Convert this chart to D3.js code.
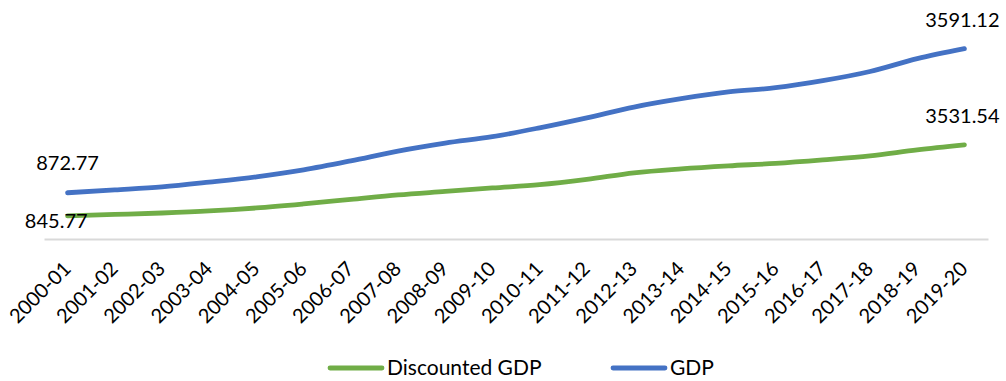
<!DOCTYPE html>
<html>
<head>
<meta charset="utf-8">
<script src="https://cdn.jsdelivr.net/npm/d3@7"></script>
<style>
  html, body { margin: 0; padding: 0; background: #fff; }
  svg { display: block; }
  text { font-family: Lato, "Open Sans", sans-serif; fill: #000; }
</style>
</head>
<body>
<svg id="chart" width="1006" height="381"></svg>
<script>
// ---- data ----
const categories = ["2000-01","2001-02","2002-03","2003-04","2004-05","2005-06","2006-07","2007-08","2008-09","2009-10",
                    "2010-11","2011-12","2012-13","2013-14","2014-15","2015-16","2016-17","2017-18","2018-19","2019-20"];
const gdp = [872.77, 926, 983, 1072, 1172, 1304, 1474, 1660, 1810, 1930,
             2098, 2287, 2490, 2647, 2775, 2854, 2987, 3160, 3403, 3591.12];
const discountedGdp = [435, 463, 491, 529, 586, 662, 747, 832, 898, 964,
                       1025, 1125, 1248, 1323, 1380, 1427, 1493, 1569, 1682, 1777];
// data label texts as printed on the chart (first and last point)
const gdpLabels = ["872.77", "3591.12"];
const discountedLabels = ["845.77", "3531.54"];
const seriesNames = ["Discounted GDP", "GDP"];
const yDomain = [0, 4000];

// ---- drawing ----
const svg = d3.select("#chart");
const x = d3.scalePoint().domain(categories).range([44, 988]).padding(0.5);
const y = d3.scaleLinear().domain(yDomain).range([239, 27]);

const blue = "#4472C4", green = "#70AD47";

// x axis
const xAxis = svg.append("g")
  .attr("transform", "translate(0,239)")
  .call(d3.axisBottom(x).tickSize(0).tickSizeOuter(0));
xAxis.select(".domain").attr("stroke", "#D9D9D9").attr("stroke-width", 2);
xAxis.selectAll(".tick text")
  .attr("x", 0).attr("y", 0).attr("dy", 0)
  .attr("transform", "translate(4,31) rotate(-45)")
  .attr("text-anchor", "end")
  .style("font-family", "Lato, sans-serif")
  .style("font-size", "20px")
  .attr("fill", "#000");

const line = d3.line()
  .x((d, i) => x(categories[i]))
  .y(d => y(d))
  .curve(d3.curveMonotoneX);

svg.append("path").datum(discountedGdp)
  .attr("d", line).attr("fill", "none").attr("stroke", green)
  .attr("stroke-width", 4.8).attr("stroke-linecap", "round").attr("stroke-linejoin", "round");
svg.append("path").datum(gdp)
  .attr("d", line).attr("fill", "none").attr("stroke", blue)
  .attr("stroke-width", 4.8).attr("stroke-linecap", "round").attr("stroke-linejoin", "round");

const last = categories.length - 1;
const lblStyle = sel => sel.style("font-size", "20px");

// GDP labels (centered above points)
svg.append("text").call(lblStyle)
  .attr("x", x(categories[0])).attr("y", y(gdp[0]) - 23)
  .attr("text-anchor", "middle").text(gdpLabels[0]);
svg.append("text").call(lblStyle)
  .attr("x", x(categories[last]) - 2).attr("y", y(gdp[last]) - 22)
  .attr("text-anchor", "middle").text(gdpLabels[1]);

// Discounted GDP labels
svg.append("text").call(lblStyle)
  .attr("x", x(categories[0]) + 20).attr("y", y(discountedGdp[0]) + 12)
  .attr("text-anchor", "end").text(discountedLabels[0]);
svg.append("text").call(lblStyle)
  .attr("x", x(categories[last]) - 2).attr("y", y(discountedGdp[last]) - 22)
  .attr("text-anchor", "middle").text(discountedLabels[1]);

// legend
const legend = [
  {name: seriesNames[0], color: green, x: 330},
  {name: seriesNames[1], color: blue, x: 613}
];
const lg = svg.append("g").selectAll("g").data(legend).join("g")
  .attr("transform", d => `translate(${d.x},368)`);
lg.append("line").attr("x1", 0).attr("x2", 52).attr("y1", 0).attr("y2", 0)
  .attr("stroke", d => d.color).attr("stroke-width", 4.8).attr("stroke-linecap", "round");
lg.append("text").attr("x", 57).attr("y", 7).style("font-size", "21px").text(d => d.name);
</script>
</body>
</html>
